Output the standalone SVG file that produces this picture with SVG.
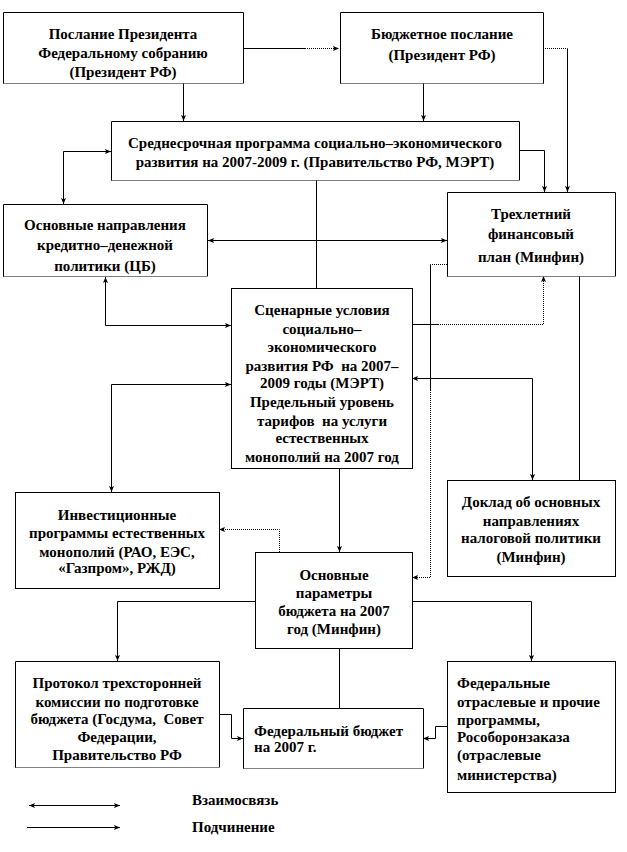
<svg xmlns="http://www.w3.org/2000/svg" width="627" height="852" viewBox="0 0 627 852">
<defs>
<marker id="ah" viewBox="0 0 6 6" refX="6" refY="3" markerWidth="6" markerHeight="6" markerUnits="userSpaceOnUse" orient="auto-start-reverse">
<path d="M0,0.5 L6,3 L0,5.5 L1.2,3 z" fill="#000"/>
</marker>
</defs>
<rect width="627" height="852" fill="#fff"/>

<g id="connectors" fill="none" stroke="#000" stroke-width="1">
<path d="M243,48.5 H305"/>
<path d="M305,48.5 H339" stroke-dasharray="1 1" marker-end="url(#ah)"/>
<path d="M183.5,83 V121" marker-end="url(#ah)"/>
<path d="M423.5,83 V121" marker-end="url(#ah)"/>
<path d="M543,48.5 H567.5" stroke-dasharray="1 1"/>
<path d="M567.5,48.5 V192" marker-end="url(#ah)"/>
<path d="M519,150.5 H544.5 V192" marker-end="url(#ah)"/>
<path d="M111,151.5 H63.5 V204" marker-start="url(#ah)" marker-end="url(#ah)"/>
<path d="M316.5,180 V288"/>
<path d="M208,240.5 H447" marker-start="url(#ah)" marker-end="url(#ah)"/>
<path d="M447,264.5 H430.5" stroke-dasharray="1 1"/>
<path d="M430.5,264.5 V390"/>
<path d="M430.5,390 V577.5 H412" stroke-dasharray="1 1" marker-end="url(#ah)"/>
<path d="M412,324.5 H438"/>
<path d="M438,324.5 H543.5 V276" stroke-dasharray="1 1" marker-end="url(#ah)"/>
<path d="M579.5,276 V480"/>
<path d="M105.5,277 V325.5 H231" marker-start="url(#ah)" marker-end="url(#ah)"/>
<path d="M111.5,492 V384.5 H231" marker-start="url(#ah)" marker-end="url(#ah)"/>
<path d="M412,378.5 H532.5 V480" marker-start="url(#ah)" marker-end="url(#ah)"/>
<path d="M339.5,468 V552" marker-end="url(#ah)"/>
<path d="M279.5,552 V529.5 H219" stroke-dasharray="1 1" marker-end="url(#ah)"/>
<path d="M255,601.5 H117.5 V661" marker-end="url(#ah)"/>
<path d="M412,601.5 H531.5 V661" marker-end="url(#ah)"/>
<path d="M339.5,637 V718" marker-end="url(#ah)"/>
<path d="M219,714.5 H231.5 V738.5 H243" marker-end="url(#ah)"/>
<path d="M447,726.5 H435.5 V738.5 H423" marker-end="url(#ah)"/>
<path d="M29,805.5 H120" marker-start="url(#ah)" marker-end="url(#ah)"/>
<path d="M27,827.5 H120" marker-end="url(#ah)"/>
</g>

<g id="n1">
<rect x="3.5" y="12.5" width="240" height="71" fill="#fff"/>
<path d="M3.5,83.5 V12.5 H243.5 V83.5" fill="none" stroke="#000"/><path d="M3.5,83.5 H243.5" fill="none" stroke="#000" stroke-dasharray="1 1"/>
<text x="123" y="39" text-anchor="middle" font-family="Liberation Serif" font-weight="bold" font-size="15">Послание Президента</text>
<text x="123" y="58" text-anchor="middle" font-family="Liberation Serif" font-weight="bold" font-size="15">Федеральному собранию</text>
<text x="123" y="77" text-anchor="middle" font-family="Liberation Serif" font-weight="bold" font-size="15">(Президент РФ)</text>
</g>

<g id="n2">
<rect x="340.5" y="12.5" width="203" height="71" fill="#fff"/>
<path d="M340.5,83.5 V12.5 H543.5 V83.5" fill="none" stroke="#000"/><path d="M340.5,83.5 H543.5" fill="none" stroke="#000" stroke-dasharray="1 1"/>
<text x="442" y="39" text-anchor="middle" font-family="Liberation Serif" font-weight="bold" font-size="15">Бюджетное послание</text>
<text x="442" y="60" text-anchor="middle" font-family="Liberation Serif" font-weight="bold" font-size="15">(Президент РФ)</text>
</g>

<g id="n3">
<rect x="111.5" y="121.5" width="408" height="59" fill="#fff"/>
<path d="M111.5,180.5 V121.5 H519.5 V180.5" fill="none" stroke="#000"/><path d="M111.5,180.5 H519.5" fill="none" stroke="#000" stroke-dasharray="1 1"/>
<text x="315" y="148" text-anchor="middle" font-family="Liberation Serif" font-weight="bold" font-size="15">Среднесрочная программа социально–экономического</text>
<text x="315" y="167" text-anchor="middle" font-family="Liberation Serif" font-weight="bold" font-size="15">развития на 2007-2009 г. (Правительство РФ, МЭРТ)</text>
</g>

<g id="n4">
<rect x="3.5" y="204.5" width="204" height="72" fill="#fff"/>
<path d="M3.5,276.5 V204.5 H207.5 V276.5" fill="none" stroke="#000"/><path d="M3.5,276.5 H207.5" fill="none" stroke="#000" stroke-dasharray="1 1"/>
<text x="105" y="230" text-anchor="middle" font-family="Liberation Serif" font-weight="bold" font-size="15">Основные направления</text>
<text x="105" y="250" text-anchor="middle" font-family="Liberation Serif" font-weight="bold" font-size="15">кредитно–денежной</text>
<text x="105" y="271" text-anchor="middle" font-family="Liberation Serif" font-weight="bold" font-size="15">политики (ЦБ)</text>
</g>

<g id="n5">
<rect x="447.5" y="192.5" width="168" height="84" fill="#fff"/>
<path d="M447.5,276.5 V192.5 H615.5 V276.5" fill="none" stroke="#000"/><path d="M447.5,276.5 H615.5" fill="none" stroke="#000" stroke-dasharray="1 1"/>
<text x="531" y="219" text-anchor="middle" font-family="Liberation Serif" font-weight="bold" font-size="15">Трехлетний</text>
<text x="531" y="239" text-anchor="middle" font-family="Liberation Serif" font-weight="bold" font-size="15">финансовый</text>
<text x="531" y="262" text-anchor="middle" font-family="Liberation Serif" font-weight="bold" font-size="15">план (Минфин)</text>
</g>

<g id="n6">
<rect x="231.5" y="288.5" width="181" height="180" fill="#fff" stroke="#000"/>
<text x="322" y="315" text-anchor="middle" font-family="Liberation Serif" font-weight="bold" font-size="15">Сценарные условия</text>
<text x="322" y="334" text-anchor="middle" font-family="Liberation Serif" font-weight="bold" font-size="15">социально–</text>
<text x="322" y="352" text-anchor="middle" font-family="Liberation Serif" font-weight="bold" font-size="15">экономического</text>
<text x="322" y="371" text-anchor="middle" font-family="Liberation Serif" font-weight="bold" font-size="15" xml:space="preserve">развития РФ  на 2007–</text>
<text x="322" y="388" text-anchor="middle" font-family="Liberation Serif" font-weight="bold" font-size="15">2009 годы (МЭРТ)</text>
<text x="322" y="407" text-anchor="middle" font-family="Liberation Serif" font-weight="bold" font-size="15">Предельный уровень</text>
<text x="322" y="426" text-anchor="middle" font-family="Liberation Serif" font-weight="bold" font-size="15" xml:space="preserve">тарифов  на услуги</text>
<text x="322" y="443" text-anchor="middle" font-family="Liberation Serif" font-weight="bold" font-size="15">естественных</text>
<text x="322" y="462" text-anchor="middle" font-family="Liberation Serif" font-weight="bold" font-size="15">монополий на 2007 год</text>
</g>

<g id="n7">
<rect x="255.5" y="552.5" width="157" height="96" fill="#fff" stroke="#000"/>
<text x="334" y="580" text-anchor="middle" font-family="Liberation Serif" font-weight="bold" font-size="15">Основные</text>
<text x="334" y="598" text-anchor="middle" font-family="Liberation Serif" font-weight="bold" font-size="15">параметры</text>
<text x="334" y="616" text-anchor="middle" font-family="Liberation Serif" font-weight="bold" font-size="15">бюджета на 2007</text>
<text x="334" y="634" text-anchor="middle" font-family="Liberation Serif" font-weight="bold" font-size="15">год (Минфин)</text>
</g>

<g id="n8">
<rect x="447.5" y="480.5" width="168" height="96" fill="#fff" stroke="#000"/>
<text x="531" y="507" text-anchor="middle" font-family="Liberation Serif" font-weight="bold" font-size="15">Доклад об основных</text>
<text x="531" y="526" text-anchor="middle" font-family="Liberation Serif" font-weight="bold" font-size="15">направлениях</text>
<text x="531" y="543" text-anchor="middle" font-family="Liberation Serif" font-weight="bold" font-size="15">налоговой политики</text>
<text x="531" y="562" text-anchor="middle" font-family="Liberation Serif" font-weight="bold" font-size="15">(Минфин)</text>
</g>

<g id="n9">
<rect x="15.5" y="492.5" width="204" height="96" fill="#fff" stroke="#000"/>
<text x="117" y="520" text-anchor="middle" font-family="Liberation Serif" font-weight="bold" font-size="15">Инвестиционные</text>
<text x="117" y="538" text-anchor="middle" font-family="Liberation Serif" font-weight="bold" font-size="15">программы естественных</text>
<text x="117" y="557" text-anchor="middle" font-family="Liberation Serif" font-weight="bold" font-size="15">монополий (РАО, ЕЭС,</text>
<text x="117" y="573" text-anchor="middle" font-family="Liberation Serif" font-weight="bold" font-size="15">«Газпром», РЖД)</text>
</g>

<g id="n10">
<rect x="15.5" y="661.5" width="204" height="106" fill="#fff"/>
<path d="M15.5,767.5 V661.5 H219.5 V767.5" fill="none" stroke="#000"/><path d="M15.5,767.5 H219.5" fill="none" stroke="#000" stroke-dasharray="1 1"/>
<text x="117" y="688" text-anchor="middle" font-family="Liberation Serif" font-weight="bold" font-size="15">Протокол трехсторонней</text>
<text x="117" y="707" text-anchor="middle" font-family="Liberation Serif" font-weight="bold" font-size="15">комиссии по подготовке</text>
<text x="117" y="724" text-anchor="middle" font-family="Liberation Serif" font-weight="bold" font-size="15" xml:space="preserve">бюджета (Госдума,  Совет</text>
<text x="117" y="742" text-anchor="middle" font-family="Liberation Serif" font-weight="bold" font-size="15">Федерации,</text>
<text x="117" y="760" text-anchor="middle" font-family="Liberation Serif" font-weight="bold" font-size="15">Правительство РФ</text>
</g>

<g id="n11">
<rect x="447.5" y="661.5" width="168" height="131" fill="#fff" stroke="#000"/>
<text x="457" y="688" font-family="Liberation Serif" font-weight="bold" font-size="15">Федеральные</text>
<text x="457" y="707" font-family="Liberation Serif" font-weight="bold" font-size="15">отраслевые и прочие</text>
<text x="457" y="725" font-family="Liberation Serif" font-weight="bold" font-size="15">программы,</text>
<text x="457" y="742" font-family="Liberation Serif" font-weight="bold" font-size="15">Рособоронзаказа</text>
<text x="457" y="760" font-family="Liberation Serif" font-weight="bold" font-size="15">(отраслевые</text>
<text x="457" y="780" font-family="Liberation Serif" font-weight="bold" font-size="15">министерства)</text>
</g>

<g id="n12">
<rect x="243.5" y="708.5" width="180" height="60" fill="#fff"/>
<path d="M243.5,768.5 V708.5 H423.5 V768.5" fill="none" stroke="#000"/><path d="M243.5,768.5 H423.5" fill="none" stroke="#000" stroke-dasharray="1 1"/>
<text x="254" y="736" font-family="Liberation Serif" font-weight="bold" font-size="15">Федеральный бюджет</text>
<text x="254" y="752" font-family="Liberation Serif" font-weight="bold" font-size="15">на 2007 г.</text>
</g>

<g id="legend">
<text x="192" y="805" font-family="Liberation Serif" font-weight="bold" font-size="15">Взаимосвязь</text>
<text x="192" y="832" font-family="Liberation Serif" font-weight="bold" font-size="15">Подчинение</text>
</g>
</svg>
